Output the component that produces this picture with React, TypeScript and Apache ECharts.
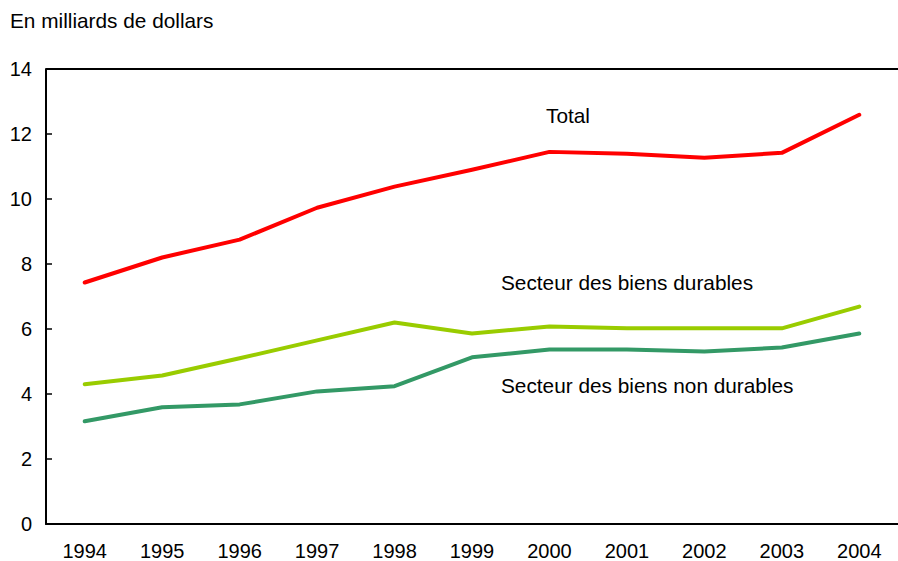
import React, { useEffect, useRef } from "react";
import * as echarts from "echarts";

const years = ["1994", "1995", "1996", "1997", "1998", "1999", "2000", "2001", "2002", "2003", "2004"];
const total = [7.43, 8.2, 8.75, 9.73, 10.38, 10.9, 11.45, 11.39, 11.27, 11.42, 12.59];
const durables = [4.3, 4.57, 5.1, 5.65, 6.2, 5.86, 6.08, 6.02, 6.02, 6.02, 6.69];
const nonDurables = [3.16, 3.59, 3.68, 4.08, 4.24, 5.13, 5.37, 5.37, 5.31, 5.43, 5.86];

const FONT = "'Liberation Sans', Arial, sans-serif";
const FS = 20;
const TFS = 20.8;

export default function App() {
  const ref = useRef<HTMLDivElement>(null);
  useEffect(() => {
    const chart = echarts.init(ref.current!, null, { renderer: "svg" });
    const lineSeries = (name: string, data: number[], color: string) => ({
      name,
      type: "line",
      data,
      symbol: "none",
      lineStyle: { color, width: 4, cap: "round", join: "round" },
      itemStyle: { color },
    });
    chart.setOption({
      animation: false,
      backgroundColor: "#ffffff",
      grid: { left: 46, right: 0, top: 69, bottom: 36 },
      xAxis: {
        type: "category",
        data: years,
        boundaryGap: true,
        splitLine: { show: false },
        axisLine: { lineStyle: { color: "#000", width: 2 } },
        axisTick: { inside: true, length: 7, lineStyle: { color: "#000", width: 1.5 } },
        axisLabel: { color: "#000", fontFamily: FONT, fontSize: FS, margin: 17 },
      },
      yAxis: {
        type: "value",
        min: 0,
        max: 14,
        interval: 2,
        splitLine: { show: false },
        axisLine: { show: true, lineStyle: { color: "#000", width: 2 } },
        axisTick: { show: true, inside: true, length: 6, lineStyle: { color: "#000", width: 1.5 } },
        axisLabel: { color: "#000", fontFamily: FONT, fontSize: FS, margin: 14 },
      },
      graphic: [
        { type: "line", shape: { x1: 46, y1: 69, x2: 898, y2: 69 }, style: { stroke: "#000", lineWidth: 2 } },
        { type: "text", left: 10, top: 10, style: { text: "En milliards de dollars", fill: "#000", font: `${TFS}px ${FONT}` } },
        { type: "text", left: 546, top: 105, style: { text: "Total", fill: "#000", font: `${TFS}px ${FONT}` } },
        { type: "text", left: 501, top: 272, style: { text: "Secteur des biens durables", fill: "#000", font: `${TFS}px ${FONT}` } },
        { type: "text", left: 501, top: 375, style: { text: "Secteur des biens non durables", fill: "#000", font: `${TFS}px ${FONT}` } },
      ],
      series: [
        lineSeries("Total", total, "#ff0000"),
        lineSeries("Secteur des biens durables", durables, "#99cc00"),
        lineSeries("Secteur des biens non durables", nonDurables, "#339966"),
      ],
    });
    return () => chart.dispose();
  }, []);
  return <div ref={ref} style={{ width: 898, height: 561, position: "fixed", left: 0, top: 0 }} />;
}
